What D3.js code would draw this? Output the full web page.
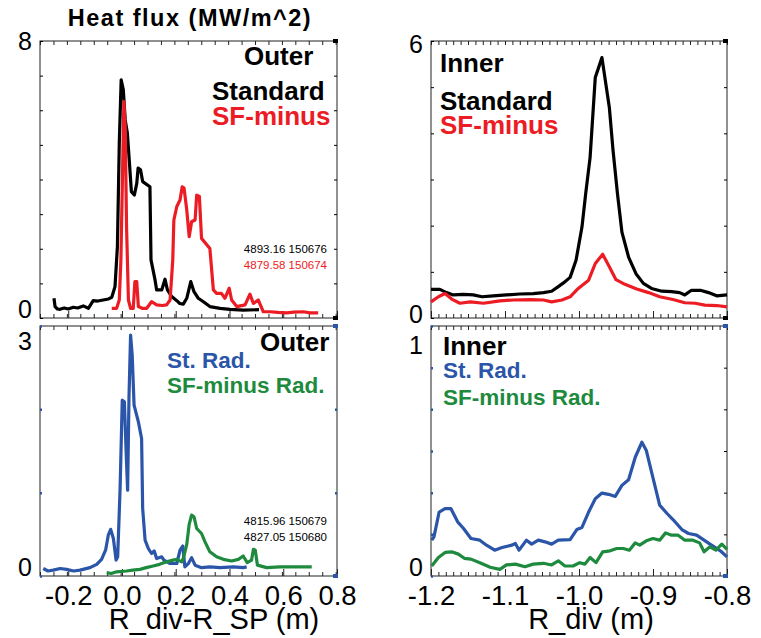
<!DOCTYPE html>
<html>
<head>
<meta charset="utf-8">
<script src="https://cdn.jsdelivr.net/npm/d3@7"></script>
<style>
  html, body { margin: 0; padding: 0; background: #fff; }
  svg { display: block; }
  text { font-family: "Liberation Sans", Arial, Helvetica, sans-serif; }
</style>
</head>
<body>
<div id="chart"></div>
<script>
// 外侧 (Outer) heat flux, [R_div-R_SP, MW/m^2]
const outerStandard = [[-0.253,0.57],[-0.249,0.33],[-0.240,0.26],[-0.231,0.25],[-0.215,0.29],[-0.200,0.26],[-0.181,0.31],[-0.165,0.29],[-0.144,0.35],[-0.125,0.28],[-0.107,0.50],[-0.090,0.49],[-0.070,0.52],[-0.050,0.55],[-0.038,0.60],[-0.026,0.90],[-0.017,2.06],[-0.010,5.05],[-0.003,6.88],[0.005,6.59],[0.012,5.72],[0.020,5.34],[0.027,4.57],[0.035,3.65],[0.046,3.55],[0.055,3.89],[0.060,4.33],[0.069,4.28],[0.077,3.94],[0.104,3.79],[0.108,1.68],[0.123,1.10],[0.129,0.81],[0.148,0.81],[0.160,1.12],[0.169,0.81],[0.185,0.62],[0.204,0.50],[0.215,0.42],[0.228,0.40],[0.241,0.57],[0.256,1.05],[0.268,0.76],[0.284,0.57],[0.303,0.47],[0.327,0.33],[0.365,0.28],[0.402,0.25],[0.451,0.23],[0.510,0.24]]
const outerSFminus = [[-0.038,0.28],[-0.020,0.28],[-0.010,0.52],[-0.004,1.68],[0.003,4.57],[0.007,6.25],[0.012,5.53],[0.017,2.64],[0.024,0.52],[0.032,0.28],[0.042,0.28],[0.048,1.05],[0.055,1.05],[0.061,0.33],[0.075,0.28],[0.092,0.28],[0.110,0.47],[0.129,0.38],[0.150,0.36],[0.166,0.38],[0.179,0.52],[0.189,1.68],[0.193,2.83],[0.204,3.22],[0.216,3.41],[0.224,3.79],[0.231,3.75],[0.241,3.12],[0.250,2.35],[0.259,2.78],[0.272,2.83],[0.278,3.55],[0.288,3.51],[0.296,2.30],[0.327,2.01],[0.340,0.81],[0.352,0.71],[0.370,0.71],[0.383,0.57],[0.399,0.86],[0.408,0.52],[0.427,0.33],[0.458,0.38],[0.476,0.69],[0.489,0.42],[0.507,0.52],[0.526,0.18],[0.551,0.18],[0.580,0.16],[0.613,0.15],[0.640,0.17],[0.675,0.18],[0.700,0.15],[0.730,0.15]]

// 内侧 (Inner) heat flux, [R_div, MW/m^2]
const innerStandard = [[-1.200,0.62],[-1.188,0.62],[-1.179,0.55],[-1.170,0.50],[-1.156,0.51],[-1.143,0.50],[-1.131,0.46],[-1.116,0.48],[-1.098,0.50],[-1.080,0.52],[-1.062,0.53],[-1.048,0.55],[-1.037,0.58],[-1.028,0.68],[-1.021,0.76],[-1.012,0.88],[-1.004,1.25],[-0.996,1.97],[-0.991,2.69],[-0.985,3.48],[-0.978,5.21],[-0.969,5.64],[-0.959,4.56],[-0.954,3.63],[-0.948,2.69],[-0.942,1.86],[-0.933,1.32],[-0.923,0.96],[-0.913,0.75],[-0.902,0.64],[-0.888,0.58],[-0.875,0.57],[-0.864,0.55],[-0.857,0.50],[-0.848,0.60],[-0.836,0.60],[-0.825,0.55],[-0.814,0.48],[-0.800,0.50]]
const innerSFminus = [[-1.200,0.35],[-1.190,0.46],[-1.181,0.53],[-1.172,0.41],[-1.161,0.32],[-1.147,0.35],[-1.129,0.32],[-1.107,0.37],[-1.089,0.39],[-1.066,0.40],[-1.048,0.39],[-1.037,0.35],[-1.023,0.39],[-1.012,0.46],[-1.001,0.64],[-0.987,0.82],[-0.978,1.18],[-0.968,1.38],[-0.959,1.11],[-0.950,0.83],[-0.938,0.73],[-0.922,0.63],[-0.906,0.55],[-0.891,0.46],[-0.873,0.40],[-0.857,0.33],[-0.843,0.32],[-0.830,0.28],[-0.814,0.27],[-0.800,0.24]]

// 辐射 (Rad.) outer
const outerStRad = [[-0.293,0.09],[-0.275,0.06],[-0.256,0.07],[-0.230,0.09],[-0.206,0.08],[-0.180,0.06],[-0.156,0.07],[-0.119,0.10],[-0.094,0.14],[-0.076,0.20],[-0.061,0.31],[-0.051,0.49],[-0.042,0.56],[-0.032,0.45],[-0.022,0.19],[-0.016,0.23],[-0.007,1.05],[0.001,2.11],[0.009,2.09],[0.015,1.53],[0.021,1.03],[0.026,2.13],[0.032,2.89],[0.038,2.65],[0.045,2.05],[0.061,1.85],[0.073,1.65],[0.077,0.81],[0.086,0.43],[0.098,0.33],[0.110,0.27],[0.120,0.30],[0.129,0.21],[0.148,0.23],[0.156,0.19],[0.179,0.15],[0.204,0.15],[0.216,0.31],[0.226,0.36],[0.234,0.11],[0.247,0.15],[0.259,0.22],[0.272,0.13],[0.296,0.10],[0.327,0.11],[0.365,0.10],[0.414,0.11],[0.451,0.10],[0.464,0.11]]
const outerSFRad = [[-0.057,0.04],[-0.040,0.03],[-0.020,0.05],[0.017,0.06],[0.040,0.07],[0.067,0.08],[0.090,0.10],[0.116,0.12],[0.140,0.14],[0.166,0.17],[0.190,0.19],[0.204,0.20],[0.222,0.17],[0.228,0.21],[0.241,0.38],[0.250,0.62],[0.259,0.73],[0.268,0.71],[0.278,0.57],[0.296,0.51],[0.309,0.41],[0.327,0.29],[0.352,0.23],[0.377,0.20],[0.408,0.18],[0.433,0.20],[0.451,0.24],[0.466,0.16],[0.482,0.19],[0.489,0.32],[0.496,0.31],[0.504,0.13],[0.538,0.10],[0.588,0.11],[0.650,0.11],[0.706,0.11]]

// 辐射 (Rad.) inner
const innerStRad = [[-1.199,0.172],[-1.196,0.188],[-1.189,0.307],[-1.181,0.323],[-1.173,0.323],[-1.164,0.260],[-1.156,0.228],[-1.146,0.180],[-1.134,0.172],[-1.125,0.148],[-1.114,0.124],[-1.104,0.137],[-1.091,0.148],[-1.086,0.156],[-1.081,0.124],[-1.071,0.172],[-1.064,0.153],[-1.055,0.172],[-1.046,0.164],[-1.037,0.153],[-1.028,0.172],[-1.012,0.175],[-1.003,0.223],[-0.996,0.233],[-0.987,0.307],[-0.978,0.371],[-0.969,0.398],[-0.960,0.392],[-0.951,0.382],[-0.942,0.435],[-0.933,0.462],[-0.924,0.570],[-0.915,0.642],[-0.909,0.602],[-0.902,0.500],[-0.891,0.340],[-0.881,0.300],[-0.873,0.271],[-0.861,0.223],[-0.852,0.204],[-0.841,0.196],[-0.833,0.177],[-0.823,0.153],[-0.809,0.121],[-0.800,0.092]]
const innerSFRad = [[-1.199,0.048],[-1.190,0.089],[-1.181,0.113],[-1.172,0.116],[-1.163,0.105],[-1.155,0.085],[-1.146,0.081],[-1.134,0.064],[-1.120,0.042],[-1.107,0.032],[-1.098,0.053],[-1.086,0.057],[-1.073,0.044],[-1.062,0.057],[-1.048,0.061],[-1.037,0.053],[-1.028,0.073],[-1.019,0.048],[-1.008,0.048],[-0.999,0.064],[-0.992,0.057],[-0.985,0.089],[-0.977,0.064],[-0.968,0.116],[-0.958,0.121],[-0.949,0.132],[-0.940,0.132],[-0.932,0.124],[-0.924,0.159],[-0.918,0.148],[-0.909,0.169],[-0.900,0.180],[-0.891,0.172],[-0.883,0.207],[-0.875,0.196],[-0.866,0.196],[-0.857,0.172],[-0.846,0.172],[-0.837,0.159],[-0.831,0.116],[-0.823,0.140],[-0.815,0.124],[-0.807,0.153],[-0.800,0.128]]

// 刻度
const outerXTicks = [-0.2, 0.0, 0.2, 0.4, 0.6, 0.8]
const innerXTicks = [-1.2, -1.1, -1.0, -0.9, -0.8]
const outerXLabels = ['-0.2', '0.0', '0.2', '0.4', '0.6', '0.8']
const innerXLabels = ['-1.2', '-1.1', '-1.0', '-0.9', '-0.8']

const RED = '#ec1c24', BLUE = '#2b55a8', GREEN = '#1e8a3e', BLACK = '#000'

const svg = d3.select('#chart').append('svg').attr('width', 761).attr('height', 638)

function drawPanel(p) {
  const x = d3.scaleLinear().domain(p.xDomain).range([p.left, p.right])
  const y = d3.scaleLinear().domain(p.yDomain).range([p.bottom, p.top])
  const g = svg.append('g')

  // 边框
  g.append('rect')
    .attr('x', p.left).attr('y', p.top)
    .attr('width', p.right - p.left).attr('height', p.bottom - p.top)
    .attr('fill', 'none').attr('stroke', '#222').attr('stroke-width', 1)

  const xMinor = d3.range(p.xDomain[0], p.xDomain[1] + 1e-9, p.xMinorStep)
    .map(v => Math.round(v * 1000) / 1000)
  const yMinor = d3.range(p.yDomain[0], p.yDomain[1] + 1e-9, p.yMinorStep)

  const tickAxis = (axis, tx, ty, color, width) => {
    const a = g.append('g').attr('transform', `translate(${tx},${ty})`).call(axis)
    a.select('.domain').remove()
    a.selectAll('line').attr('stroke', color).attr('stroke-width', width)
  }

  // x 刻度 (上下, 向内)
  tickAxis(d3.axisBottom(x).tickValues(xMinor).tickSize(-4).tickFormat(''), 0, p.bottom, '#222', 1)
  tickAxis(d3.axisBottom(x).tickValues(p.xTicks).tickSize(-7).tickFormat(''), 0, p.bottom, '#222', 1)
  tickAxis(d3.axisTop(x).tickValues(xMinor).tickSize(-4).tickFormat(''), 0, p.top, '#222', 1)

  // y 刻度
  const lBlack = p.yTickLeftColor === BLACK, rBlack = p.yTickRightColor === BLACK
  tickAxis(d3.axisLeft(y).tickValues(yMinor).tickSize(lBlack ? -3 : -2).tickFormat(''),
    p.left, 0, p.yTickLeftColor, lBlack ? 1 : 2.5)
  tickAxis(d3.axisRight(y).tickValues(yMinor).tickSize(rBlack ? -3 : -2).tickFormat(''),
    p.right, 0, p.yTickRightColor, rBlack ? 1 : 2.5)

  // 右端角标
  p.cornerMarks.forEach(c => {
    g.append('rect')
      .attr('x', x.range()[1] - 4).attr('y', (c.edge === 'top' ? p.top : p.bottom) - 2)
      .attr('width', 5).attr('height', 4).attr('fill', c.color)
  })

  // y 标签
  const yl = g.append('g').attr('transform', `translate(${p.left},0)`)
    .call(d3.axisLeft(y).tickValues(p.yDomain).tickSize(0).tickPadding(8).tickFormat(d3.format('d')))
  yl.select('.domain').remove()
  yl.selectAll('text')
    .attr('font-family', '"Liberation Sans", Arial, sans-serif')
    .attr('font-size', 25).attr('fill', '#000')
    .attr('dy', null)
    .attr('y', (d, i) => p.yLabelShift[i])

  // x 标签
  if (p.xLabels) {
    const xl = g.append('g').attr('transform', `translate(0,${p.bottom})`)
      .call(d3.axisBottom(x).tickValues(p.xTicks).tickSize(0).tickPadding(0)
        .tickFormat((d, i) => p.xLabels[i]))
    xl.select('.domain').remove()
    xl.selectAll('text')
      .attr('font-family', '"Liberation Sans", Arial, sans-serif')
      .attr('font-size', 27.5).attr('fill', '#000')
      .attr('dy', null).attr('y', 605 - p.bottom)
    g.append('text').attr('x', p.xTitleX).attr('y', 629)
      .attr('text-anchor', 'middle').attr('font-size', 29).text(p.xTitle)
  }

  // 曲线
  const line = d3.line().x(d => x(d[0])).y(d => y(d[1]))
  p.series.forEach(s => {
    g.append('path').datum(s.data)
      .attr('d', line)
      .attr('fill', 'none').attr('stroke', s.color)
      .attr('stroke-width', 3.2).attr('stroke-linejoin', 'round')
  })

  // 图例文字
  p.texts.forEach(t => {
    g.append('text').attr('x', t.x).attr('y', t.y)
      .attr('font-size', t.size).attr('font-weight', t.bold ? 'bold' : 'normal')
      .attr('fill', t.color).attr('text-anchor', t.anchor || 'start')
      .text(t.text)
  })
}

// 标题
svg.append('text').attr('x', 190).attr('y', 26)
  .attr('text-anchor', 'middle').attr('font-size', 23.5).attr('font-weight', 'bold')
  .attr('letter-spacing', 1.5)
  .text('Heat flux (MW/m^2)')

drawPanel({
  left: 40, right: 337, top: 41, bottom: 318,
  xDomain: [-0.305, 0.8], yDomain: [0, 8], xMinorStep: 0.05, yMinorStep: 1,
  xTicks: outerXTicks, yTickLeftColor: BLACK, yTickRightColor: BLACK,
  yLabelShift: [-1, 8],
  cornerMarks: [{ edge: 'top', color: BLACK }, { edge: 'bottom', color: BLACK }],
  series: [{ data: outerStandard, color: BLACK }, { data: outerSFminus, color: RED }],
  texts: [
    { text: 'Outer', x: 244, y: 65, size: 26, bold: true, color: BLACK },
    { text: 'Standard', x: 212, y: 100, size: 26, bold: true, color: BLACK },
    { text: 'SF-minus', x: 212, y: 125, size: 26, bold: true, color: RED },
    { text: '4893.16 150676', x: 327, y: 253, size: 11.5, color: BLACK, anchor: 'end' },
    { text: '4879.58 150674', x: 327, y: 269, size: 11.5, color: RED, anchor: 'end' }
  ]
})

drawPanel({
  left: 431, right: 727, top: 41, bottom: 318,
  xDomain: [-1.2, -0.8], yDomain: [0, 6], xMinorStep: 0.01, yMinorStep: 1,
  xTicks: innerXTicks, yTickLeftColor: BLACK, yTickRightColor: BLACK,
  yLabelShift: [4, 11],
  cornerMarks: [{ edge: 'top', color: BLACK }, { edge: 'bottom', color: BLACK }],
  series: [{ data: innerStandard, color: BLACK }, { data: innerSFminus, color: RED }],
  texts: [
    { text: 'Inner', x: 440, y: 72, size: 26, bold: true, color: BLACK },
    { text: 'Standard', x: 440, y: 110, size: 26, bold: true, color: BLACK },
    { text: 'SF-minus', x: 440, y: 134, size: 26, bold: true, color: RED }
  ]
})

drawPanel({
  left: 40, right: 337, top: 326, bottom: 576,
  xDomain: [-0.305, 0.8], yDomain: [0, 3], xMinorStep: 0.05, yMinorStep: 1,
  xTicks: outerXTicks, yTickLeftColor: BLUE, yTickRightColor: BLUE,
  yLabelShift: [-1, 23],
  cornerMarks: [{ edge: 'top', color: BLUE }, { edge: 'bottom', color: BLUE }],
  xLabels: outerXLabels, xTitle: 'R_div-R_SP (m)', xTitleX: 214,
  series: [{ data: outerStRad, color: BLUE }, { data: outerSFRad, color: GREEN }],
  texts: [
    { text: 'Outer', x: 260, y: 351, size: 26, bold: true, color: BLACK },
    { text: 'St. Rad.', x: 167, y: 368, size: 22.5, bold: true, color: BLUE },
    { text: 'SF-minus Rad.', x: 167, y: 393, size: 22.5, bold: true, color: GREEN },
    { text: '4815.96 150679', x: 327, y: 525, size: 11.5, color: BLACK, anchor: 'end' },
    { text: '4827.05 150680', x: 327, y: 541, size: 11.5, color: BLACK, anchor: 'end' }
  ]
})

drawPanel({
  left: 431, right: 727, top: 326, bottom: 576,
  xDomain: [-1.2, -0.8], yDomain: [0, 1.2], xMinorStep: 0.01, yMinorStep: 0.2,
  xTicks: innerXTicks, yTickLeftColor: BLUE, yTickRightColor: BLACK,
  yLabelShift: [-1, 27],
  cornerMarks: [{ edge: 'top', color: BLUE }, { edge: 'bottom', color: BLUE }],
  xLabels: innerXLabels, xTitle: 'R_div (m)', xTitleX: 591,
  series: [{ data: innerStRad, color: BLUE }, { data: innerSFRad, color: GREEN }],
  texts: [
    { text: 'Inner', x: 443, y: 355, size: 26, bold: true, color: BLACK },
    { text: 'St. Rad.', x: 443, y: 378, size: 22.5, bold: true, color: BLUE },
    { text: 'SF-minus Rad.', x: 443, y: 405, size: 22.5, bold: true, color: GREEN }
  ]
})
</script>
</body>
</html>
